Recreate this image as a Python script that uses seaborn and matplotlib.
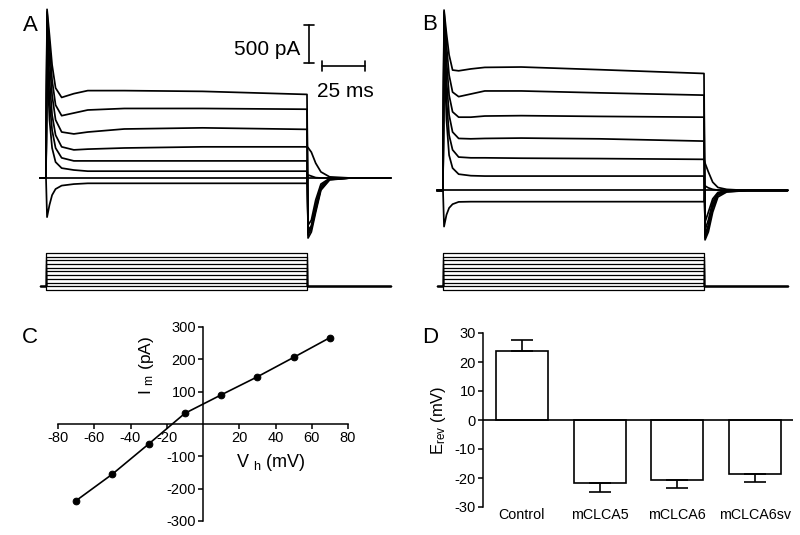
import matplotlib
matplotlib.use('Agg')
import matplotlib.pyplot as plt
import seaborn as sns
import numpy as np
import pandas as pd

sns.set_theme(style='white')
plt.rcParams['font.family'] = ['Liberation Sans', 'DejaVu Sans']
plt.rcParams['mathtext.fontset'] = 'custom'
plt.rcParams['mathtext.rm'] = 'Liberation Sans'
plt.rcParams['mathtext.it'] = 'Liberation Sans:italic'
plt.rcParams['axes.unicode_minus'] = False
for k in ['text.color', 'axes.labelcolor', 'xtick.color', 'ytick.color', 'axes.edgecolor']:
    plt.rcParams[k] = 'black'

# sample times of the sweeps (ms), step onset at 0, step off at 150
t_ms = [-3.5, 0, 0.6, 2, 3.5, 5.5, 9, 16, 24, 45, 90, 150, 150.6, 152.5, 155, 158, 163, 175, 198]

# panel A sweeps, membrane current (pA)
a1 = [0, 0, 2220, 1880, 1490, 1185, 1060, 1110, 1150, 1150, 1140, 1100, -790, -710, -450, -160, -25, 0, 0]
a2 = [0, 0, 2185, 1750, 1290, 960, 820, 855, 895, 915, 915, 905, -750, -670, -420, -140, -20, 0, 0]
a3 = [0, 0, 2080, 1550, 1090, 765, 605, 580, 605, 645, 660, 640, -720, -640, -400, -130, -15, 0, 0]
a4 = [0, 0, 1950, 1290, 830, 565, 410, 370, 380, 395, 410, 410, 400, 340, 195, 80, 15, 0, 0]
a5 = [0, 0, 1750, 1025, 630, 395, 265, 225, 225, 225, 225, 225, -685, -630, -355, -105, -15, 0, 0]
a6 = [0, 0, 1555, 765, 395, 210, 130, 105, 90, 90, 90, 90, -620, -555, -290, -80, -5, 0, 0]
a7 = [0] * 19
a8 = [0, 0, -515, -355, -225, -145, -100, -80, -70, -70, -70, -70, 40, 25, 5, 0, 0, 0, 0]

# panel B sweeps (pA)
b1 = [0, 0, 2375, 2065, 1785, 1585, 1575, 1600, 1620, 1625, 1590, 1540, -650, -545, -285, -85, -20, 0, 0]
b2 = [0, 0, 2350, 1915, 1520, 1295, 1235, 1270, 1310, 1310, 1285, 1255, -625, -495, -230, -60, -15, 0, 0]
b3 = [0, 0, 2270, 1715, 1255, 1035, 965, 965, 980, 985, 975, 965, -585, -455, -190, -45, -5, 0, 0]
b4 = [0, 0, 2180, 1455, 995, 770, 685, 680, 685, 690, 680, 650, -520, -390, -150, -35, -5, 0, 0]
b5 = [0, 0, 2045, 1190, 730, 535, 440, 430, 430, 425, 420, 410, 360, 245, 110, 40, 15, 0, 0]
b6 = [0, 0, 1915, 930, 465, 295, 215, 195, 190, 190, 190, 190, -415, -285, -110, -25, -5, 0, 0]
b7 = [0] * 19
b8 = [0, 0, -475, -320, -230, -180, -150, -147, -147, -147, -147, -147, 60, 35, 15, 5, 0, 0, 0]

# voltage protocol (mV)
step_mv = [-100, -80, -60, -40, -20, 0, 20, 40, 60, 80, 100]
hold_mv = -80
proto_t = [-3.5, 0, 0, 150, 150, 198]

# panel C: I-V relation
vh_mv = [-70, -50, -30, -10, 10, 30, 50, 70]
im_pa = [-237, -155, -62, 33, 90, 146, 206, 267]

# panel D: reversal potentials
groups = ['Control', 'mCLCA5', 'mCLCA6', 'mCLCA6sv']
erev_mv = [23.9, -21.6, -20.7, -18.7]
sem_mv = [3.7, 3.1, 2.9, 2.6]

W, H = 800, 535
fig = plt.figure(figsize=(W / 100, H / 100), dpi=100)


def px_axes(l, t, r, b):
    ax = fig.add_axes([l / W, 1 - b / H, (r - l) / W, (b - t) / H])
    ax.set_axis_off()
    return ax


def sweeps_df(sweeps):
    return pd.DataFrame({'t': t_ms * len(sweeps),
                         'I': np.concatenate(sweeps),
                         'sweep': np.repeat(np.arange(len(sweeps)), len(t_ms))})


def proto_df():
    rows = []
    for i, v in enumerate(step_mv):
        for t, vv in zip(proto_t, [hold_mv, hold_mv, v, v, hold_mv, hold_mv]):
            rows.append((t, vv, i))
    return pd.DataFrame(rows, columns=['t', 'V', 'sweep'])


def draw_traces(ax, sweeps, x0, y0):
    ax.set_axis_off()
    sns.lineplot(data=sweeps_df(sweeps), x='t', y='I', units='sweep', estimator=None,
                 sort=False, color='black', lw=1.25, ax=ax, legend=False)
    ax.set_xlim(x0)
    ax.set_ylim(y0)


def draw_protocol(ax, xlim):
    sns.lineplot(data=proto_df(), x='t', y='V', units='sweep', estimator=None,
                 sort=False, color='black', lw=0.9, ax=ax, legend=False)
    ax.set_xlim(xlim)
    ax.set_ylim(-154.05, 143.2)
    ax.set_axis_off()


# ---- panel A
xa = ((30 - 46) / 1.74, (395 - 46) / 1.74)
axa = px_axes(30, 0, 395, 245)
draw_traces(axa, [a1, a2, a3, a4, a5, a6, a7, a8], xa, ((178 - 245) * 13.16, 178 * 13.16))
# scale bars: 500 pA and 25 ms
axa.plot([151.1, 151.1], [1513, 2013], color='black', lw=1.2)
axa.plot([148.2, 154.0], [2013, 2013], color='black', lw=1.2)
axa.plot([148.2, 154.0], [1513, 1513], color='black', lw=1.2)
axa.plot([158.6, 183.6], [1474, 1474], color='black', lw=1.2)
axa.plot([158.6, 158.6], [1408, 1540], color='black', lw=1.2)
axa.plot([183.6, 183.6], [1408, 1540], color='black', lw=1.2)
axa.text(146, 1615, '500 pA', ha='right', va='baseline', fontsize=15)
axa.text(171.8, 1070, '25 ms', ha='center', va='baseline', fontsize=15)
axpa = px_axes(30, 245, 395, 300)
draw_protocol(axpa, xa)

# ---- panel B
xb = ((430 - 443) / 1.74, (795 - 443) / 1.74)
axb = px_axes(430, 0, 795, 245)
draw_traces(axb, [b1, b2, b3, b4, b5, b6, b7, b8], xb, ((190.5 - 245) * 13.16, 190.5 * 13.16))
axpb = px_axes(430, 245, 795, 300)
draw_protocol(axpb, xb)

# ---- panel C
axc = fig.add_axes([58 / W, 1 - 521 / H, 290 / W, 194 / H])
sns.lineplot(x=vh_mv, y=im_pa, marker='o', markersize=4.8, markeredgecolor='black',
             color='black', lw=1.2, ax=axc)
axc.set_xlim(-80, 80)
axc.set_ylim(-300, 300)
axc.spines['left'].set_position(('data', 0))
axc.spines['bottom'].set_position(('data', 0))
axc.spines['top'].set_visible(False)
axc.spines['right'].set_visible(False)
for s in ['left', 'bottom']:
    axc.spines[s].set_linewidth(1.1)
axc.set_xticks([-80, -60, -40, -20, 20, 40, 60, 80])
axc.set_yticks([-300, -200, -100, 100, 200, 300])
axc.tick_params(direction='out', length=3.5, width=1.1, labelsize=10.5, pad=1.5,
                bottom=True, left=True)
axc.text(37.5, -120, r'V $_{\rm h}$ (mV)', ha='center', va='center', fontsize=13)
axc.text(-31, 182, r'I $_{\rm m}$ (pA)', ha='center', va='center', rotation=90, fontsize=12.5)

# ---- panel D
axd = fig.add_axes([483 / W, 1 - 507 / H, 310 / W, 174 / H])
sns.barplot(x=groups, y=erev_mv, color='white', edgecolor='black', linewidth=1.2,
            width=0.67, errorbar=None, ax=axd)
lo = [e if m < 0 else 0 for m, e in zip(erev_mv, sem_mv)]
hi = [e if m > 0 else 0 for m, e in zip(erev_mv, sem_mv)]
axd.errorbar(range(len(groups)), erev_mv, yerr=[lo, hi], fmt='none', ecolor='black',
             elinewidth=1.2, capsize=8, capthick=1.2)
axd.axhline(0, color='black', lw=1.2)
axd.set_xlim(-0.5, 3.49)
axd.set_ylim(-30, 30)
axd.set_yticks([-30, -20, -10, 0, 10, 20, 30])
for s in ['top', 'right', 'bottom']:
    axd.spines[s].set_visible(False)
axd.spines['left'].set_linewidth(1.1)
axd.tick_params(axis='y', direction='out', length=3.5, width=1.1, labelsize=10.5, pad=1.5, left=True)
axd.tick_params(axis='x', length=0, labelsize=10.3, pad=1)
axd.text(-0.142, 0.5, r'E$_{\rm rev}$ (mV)', transform=axd.transAxes, rotation=90,
         ha='center', va='center', fontsize=12)

# panel letters
for lab, x, y in [('A', 30, 30.7), ('B', 430, 30), ('C', 30, 343), ('D', 430, 343)]:
    fig.text(x / W, 1 - y / H, lab, ha='center', va='baseline', fontsize=16)

fig.savefig('out.png', dpi=100)
